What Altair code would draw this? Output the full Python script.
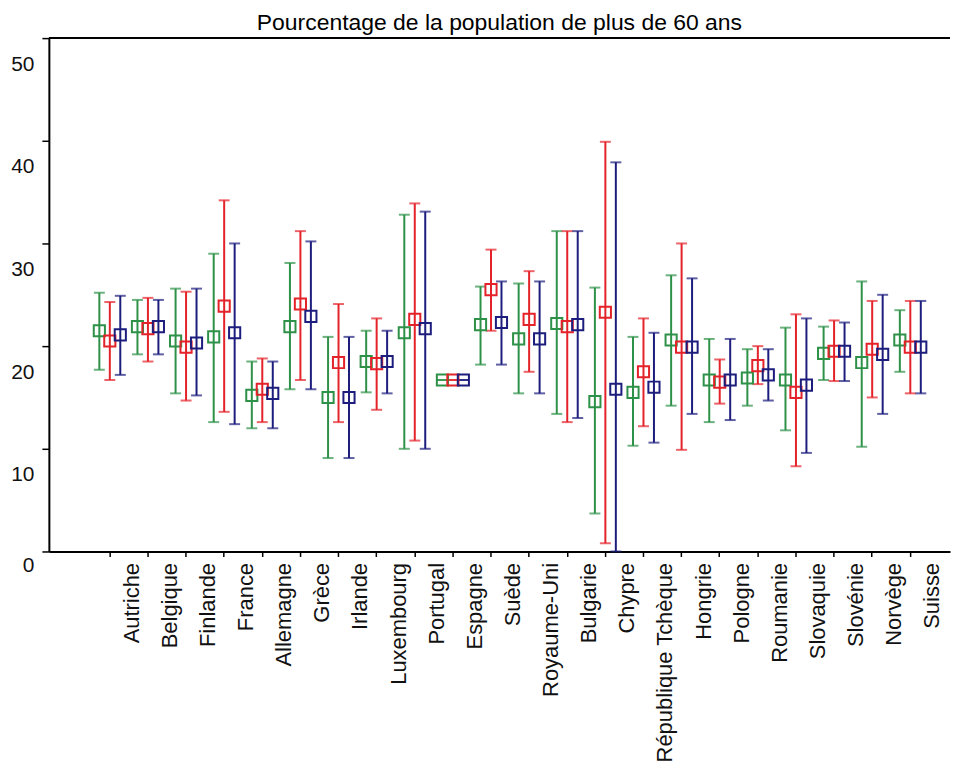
import altair as alt
import pandas as pd

countries = ["Autriche", "Belgique", "Finlande", "France", "Allemagne", "Grèce", "Irlande",
             "Luxembourg", "Portugal", "Espagne", "Suède", "Royaume-Uni", "Bulgarie", "Chypre",
             "République Tchèque", "Hongrie", "Pologne", "Roumanie", "Slovaquie", "Slovénie",
             "Norvège", "Suisse"]

series = ["s1", "s2", "s3"]
series_colors = ["#2e9148", "#e42229", "#1d1d7e"]

s1_mean = [21.5, 21.9, 20.5, 20.9, 15.2, 21.9, 15.0, 18.5, 21.3, 16.7, 22.1, 20.7, 22.2, 14.6, 15.5, 20.6, 16.7, 16.9, 16.7, 19.3, 18.4, 20.6]
s1_low = [17.7, 19.2, 15.4, 12.6, 12.0, 15.8, 9.1, 15.5, 10.0, 16.7, 18.2, 15.4, 13.4, 3.7, 10.3, 14.2, 12.6, 14.2, 11.8, 16.7, 10.2, 17.5]
s1_high = [25.2, 24.5, 25.6, 29.0, 18.5, 28.1, 20.9, 21.5, 32.8, 16.7, 25.8, 26.1, 31.2, 25.7, 20.9, 26.9, 20.7, 19.7, 21.8, 21.9, 26.3, 23.5]

s2_mean = [20.5, 21.7, 19.9, 23.9, 15.8, 24.1, 18.4, 18.3, 22.6, 16.7, 25.5, 22.6, 21.9, 23.3, 17.5, 19.9, 16.5, 18.1, 15.5, 19.5, 19.7, 19.9]
s2_low = [16.7, 18.5, 14.7, 13.6, 12.6, 16.7, 12.6, 13.8, 10.8, 16.7, 21.5, 17.5, 12.6, 0.8, 12.2, 9.9, 14.4, 16.3, 8.3, 16.6, 15.0, 15.4]
s2_high = [24.3, 24.7, 25.3, 34.2, 18.8, 31.2, 24.1, 22.7, 33.9, 16.7, 29.4, 27.3, 31.2, 39.9, 22.7, 30.0, 18.7, 20.0, 23.1, 22.5, 24.4, 24.4]

s3_mean = [21.1, 21.9, 20.3, 21.3, 15.4, 22.9, 15.0, 18.5, 21.7, 16.7, 22.3, 20.7, 22.1, 15.8, 16.0, 19.9, 16.7, 17.2, 16.2, 19.5, 19.2, 19.9]
s3_low = [17.2, 19.2, 15.2, 12.4, 12.0, 15.8, 9.1, 15.4, 10.0, 16.7, 18.2, 15.4, 13.0, 0.0, 10.6, 13.4, 12.8, 14.7, 9.6, 16.6, 13.4, 15.4]
s3_high = [24.9, 24.5, 25.6, 30.0, 18.5, 30.2, 20.9, 21.5, 33.1, 16.7, 26.3, 26.3, 31.2, 37.9, 21.3, 26.6, 20.7, 19.7, 22.7, 22.3, 25.0, 24.4]

y_ticks = [0, 10, 20, 30, 40, 50]
title_text = "Pourcentage de la population de plus de 60 ans"

rows = []
for s, (m, lo, hi) in zip(series, [(s1_mean, s1_low, s1_high),
                                   (s2_mean, s2_low, s2_high),
                                   (s3_mean, s3_low, s3_high)]):
    for c, a, b, d in zip(countries, m, lo, hi):
        rows.append({"pays": c, "serie": s, "moyenne": a, "bas": b, "haut": d})
df = pd.DataFrame(rows)

FONT = "Liberation Sans"
W, H = 904, 515

x_enc = alt.X("pays:N", sort=countries,
              scale=alt.Scale(type="band", paddingInner=0, paddingOuter=0.82, align=0.67),
              axis=alt.Axis(title=None, labelAngle=-90, labelFontSize=22, labelFont=FONT,
                            labelColor="#111111", labelOffset=22, labelPadding=6,
                            labelLimit=400, tickSize=5, tickWidth=1.5, tickColor="black",
                            domainColor="black", domainWidth=2))
xo_enc = alt.XOffset("serie:N", sort=series,
                     scale=alt.Scale(domain=series, paddingInner=0, paddingOuter=0.32))
color_enc = alt.Color("serie:N", scale=alt.Scale(domain=series, range=series_colors), legend=None)
y_scale = alt.Scale(domain=[0, 50], nice=False)
y_axis = alt.Axis(title=None, values=y_ticks, grid=False, tickSize=7, tickWidth=1.5,
                  tickColor="black", domainColor="black", domainWidth=2,
                  labelFontSize=21, labelFont=FONT, labelColor="#111111", labelPadding=8,
                  labelOffset={"condition": {"test": "datum.value === 0", "value": 14}, "value": 26})

base = alt.Chart(df)

bars = base.mark_rule(strokeWidth=2).encode(
    x=x_enc, xOffset=xo_enc,
    y=alt.Y("bas:Q", scale=y_scale, axis=y_axis), y2="haut:Q", color=color_enc)
caps_lo = base.mark_tick(size=11, thickness=2).encode(
    x=x_enc, xOffset=xo_enc, y=alt.Y("bas:Q", scale=y_scale, axis=y_axis), color=color_enc)
caps_hi = base.mark_tick(size=11, thickness=2).encode(
    x=x_enc, xOffset=xo_enc, y=alt.Y("haut:Q", scale=y_scale, axis=y_axis), color=color_enc)
points = base.mark_point(shape="square", size=125, strokeWidth=2, filled=False, opacity=1).encode(
    x=x_enc, xOffset=xo_enc, y=alt.Y("moyenne:Q", scale=y_scale, axis=y_axis), color=color_enc)

top_line = alt.Chart(pd.DataFrame({"v": [50]})).mark_rule(color="black", strokeWidth=2).encode(
    y=alt.Y("v:Q", scale=y_scale, axis=y_axis), x=alt.value(0), x2=alt.value(W))

chart = alt.layer(bars, caps_lo, caps_hi, points, top_line).properties(
    width=W, height=H,
    padding={"left": 2, "top": 3, "right": 0, "bottom": 0},
    title=alt.TitleParams(title_text, fontSize=23, font=FONT, fontWeight="normal",
                          color="black", offset=2, anchor="middle"),
).configure_view(stroke=None)

chart.save("out.html", embed_options={"renderer": "svg", "actions": False})
